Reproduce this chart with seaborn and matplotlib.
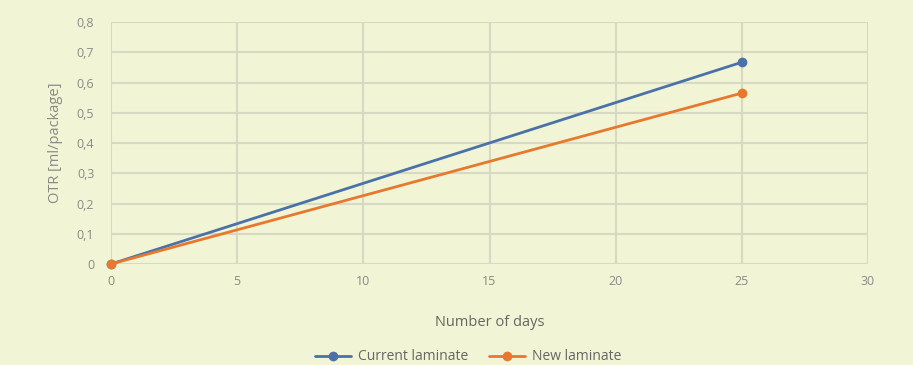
import matplotlib
matplotlib.use("Agg")
import matplotlib.pyplot as plt
import matplotlib.ticker as mticker
import seaborn as sns
import pandas as pd

days = [0, 25]
current_laminate = [0.0, 0.667]
new_laminate = [0.0, 0.565]
series_names = ["Current laminate", "New laminate"]
x_ticks = [0, 5, 10, 15, 20, 25, 30]
y_ticks = [0, 0.1, 0.2, 0.3, 0.4, 0.5, 0.6, 0.7, 0.8]

df = pd.DataFrame({
    "days": days * 2,
    "otr": current_laminate + new_laminate,
    "series": [series_names[0]] * len(days) + [series_names[1]] * len(days),
})

bg = "#F1F5D6"
grid = "#D8D9C2"
text = "#8A8A86"
palette = {"Current laminate": "#4A72A8", "New laminate": "#E8782E"}

sns.set_theme(style="whitegrid")
plt.rcParams["font.family"] = ["Open Sans", "DejaVu Sans"]

fig = plt.figure(figsize=(9.13, 3.65), dpi=100, facecolor=bg)
ax = fig.add_axes([0.1216, 0.2767, 0.8291, 0.663])
ax.set_facecolor(bg)

sns.lineplot(data=df, x="days", y="otr", hue="series", palette=palette,
             marker="o", markersize=7, markeredgewidth=0, linewidth=2,
             ax=ax, legend=True)

ax.set_xlim(0, 30)
ax.set_ylim(0, 0.8)
ax.set_xticks(x_ticks)
ax.set_yticks(y_ticks)
ax.yaxis.set_major_formatter(mticker.FuncFormatter(
    lambda v, p: "0" if abs(v) < 1e-9 else f"{v:.1f}".replace(".", ",")))
ax.grid(True, color=grid, linewidth=1.5)
for s in ax.spines.values():
    s.set_visible(False)
ax.tick_params(axis="both", colors=text, labelsize=9, length=0, pad=8)
ax.tick_params(axis="y", pad=12)
for m in ax.lines:
    m.set_clip_on(False)

ax.set_xlabel("Number of days", color="#666662", fontsize=10.5, labelpad=19)
ax.set_ylabel("OTR [ml/package]", color=text, fontsize=10.5, labelpad=10)

handles, labels = ax.get_legend_handles_labels()
ax.get_legend().remove()
fig.legend(handles, labels, loc="center", bbox_to_anchor=(0.513, 0.022),
           ncol=2, frameon=False, fontsize=10, labelcolor="#666662",
           handlelength=2.6, columnspacing=1.5, handletextpad=0.5,
           borderaxespad=0, borderpad=0)

fig.savefig("out.png", dpi=100, facecolor=bg)
